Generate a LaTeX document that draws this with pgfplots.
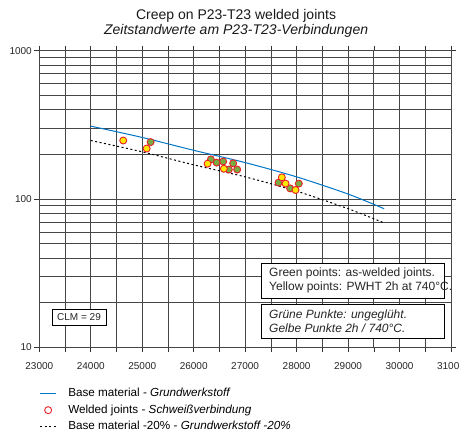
\documentclass[border=0pt]{standalone}
\usepackage{fontspec}
\setmainfont{Liberation Sans}
\usepackage{pgfplots}
\pgfplotsset{compat=1.18}
\definecolor{baseblue}{RGB}{0,118,196}
\definecolor{ptgreen}{RGB}{118,172,64}
\definecolor{ptyellow}{RGB}{255,232,0}
\definecolor{ptred}{RGB}{232,32,40}
\definecolor{gridc}{RGB}{70,70,70}
\pgfplotsset{
  blueleg/.style={legend image code/.code={\draw[baseblue, line width=1.3pt] (0pt,0pt) -- (16pt,0pt);}},
  dashleg/.style={legend image code/.code={\draw[black, line width=1pt, dash pattern=on 2pt off 2.5pt] (0pt,0pt) -- (16pt,0pt);}},
  circleleg/.style={legend image code/.code={\draw[ptred, line width=0.9pt] (8pt,0pt) circle (3.5pt);}}
}
\begin{document}
\begin{tikzpicture}
\begin{axis}[
  scale only axis, width=411.7pt, height=296.6pt,
  ymode=log, xmin=23000, xmax=31000, ymin=10, ymax=1000,
  scaled x ticks=false,
  xtick={23000,23500,24000,24500,25000,25500,26000,26500,27000,27500,28000,28500,29000,29500,30000,30500,31000},
  xticklabels={23000,,24000,,25000,,26000,,27000,,28000,,29000,,30000,,31000},
  ytick={10,100,1000}, yticklabels={10,100,1000},
  minor ytick={20,30,40,50,60,70,80,90,200,300,400,500,600,700,800,900},
  grid=both,
  major grid style={gridc, line width=0.75pt},
  minor grid style={gridc, line width=0.75pt},
  axis line style={gridc, line width=0.8pt},
  tick align=outside, major tick length=5pt, minor tick length=0pt,
  tick style={black!80, line width=0.6pt},
  /pgf/number format/assume math mode=true,
  ticklabel style={font=\fontsize{10}{12}\selectfont, text=black!85},
  xticklabel style={yshift=-7pt},
  yticklabel style={xshift=1pt},
  title={Creep on P23-T23 welded joints\\\textit{Zeitstandwerte am P23-T23-Verbindungen}},
  title style={at={(0.478,1)}, anchor=south, inner sep=0pt, yshift=7.5pt, align=center, font=\fontsize{14}{15}\selectfont, text=black!90},
  legend style={at={(0,0)}, anchor=north west, draw=none, fill=none, inner sep=0pt, yshift=-40.4pt, xshift=0pt,
    font=\fontsize{11.7}{13}\selectfont, row sep=5pt,
    nodes={inner sep=0pt, text height=9pt, text depth=2.5pt},
    /tikz/every odd column/.append style={column sep=11.5pt}},
  legend cell align=left,
  legend entries={Base material - \textit{Grundwerkstoff}, Welded joints - \textit{Schweißverbindung}, Base material -20\% - \textit{Grundwerkstoff -20\%}},
]
\addplot[draw=baseblue, line width=1pt, smooth, blueleg] coordinates {
 (24000,310) (25000,260) (26000,213) (27000,176) (28000,141) (29000,108) (29700,86)};
\addlegendimage{circleleg}
\addplot[black, line width=1pt, dash pattern=on 2pt off 2.5pt, smooth, dashleg] coordinates {
 (24000,248) (25000,208) (26000,170) (27000,141) (28000,113) (29000,86) (29700,69)};
\addplot[forget plot, only marks, mark=*, mark size=3.5pt, mark options={draw=ptred, fill=ptgreen, line width=0.9pt}] coordinates {
 (25163,242) (26334,185) (26445,176) (26573,179) (26683,158) (26767,174) (26845,158) (27649,129) (27874,118) (28043,127)};
\addplot[forget plot, only marks, mark=*, mark size=3.5pt, mark options={draw=ptred, fill=ptyellow, line width=0.9pt}] coordinates {
 (24631,248) (25086,219) (26270,173) (26586,160) (27713,140) (27785,127) (27979,115)};
\draw[black, line width=0.7pt, fill=white] (rel axis cs:0.540,0.165) rectangle (rel axis cs:0.983,0.283);
\node[anchor=west, align=left, inner sep=0pt, font=\fontsize{12}{14}\selectfont, text=black!85] at (rel axis cs:0.558,0.224) {Green points: as-welded joints.\\Yellow points: PWHT 2h at 740°C.};
\draw[black, line width=0.7pt, fill=white] (rel axis cs:0.540,0.030) rectangle (rel axis cs:0.983,0.146);
\node[anchor=west, align=left, inner sep=0pt, font=\fontsize{12}{14}\selectfont\itshape, text=black!85] at (rel axis cs:0.558,0.088) {Grüne Punkte: ungeglüht.\\Gelbe Punkte 2h / 740°C.};
\draw[black, line width=0.7pt, fill=white] (rel axis cs:0.031,0.073) rectangle (rel axis cs:0.162,0.128);
\node[inner sep=0pt, font=\fontsize{10}{12}\selectfont, text=black!85] at (rel axis cs:0.0965,0.1005) {CLM = 29};
\end{axis}
\pgfresetboundingbox
\path[use as bounding box] ([shift={(-39.3pt,-87.7pt)}]current axis.south west) rectangle ([shift={(8pt,50.7pt)}]current axis.north east);
\end{tikzpicture}
\end{document}
